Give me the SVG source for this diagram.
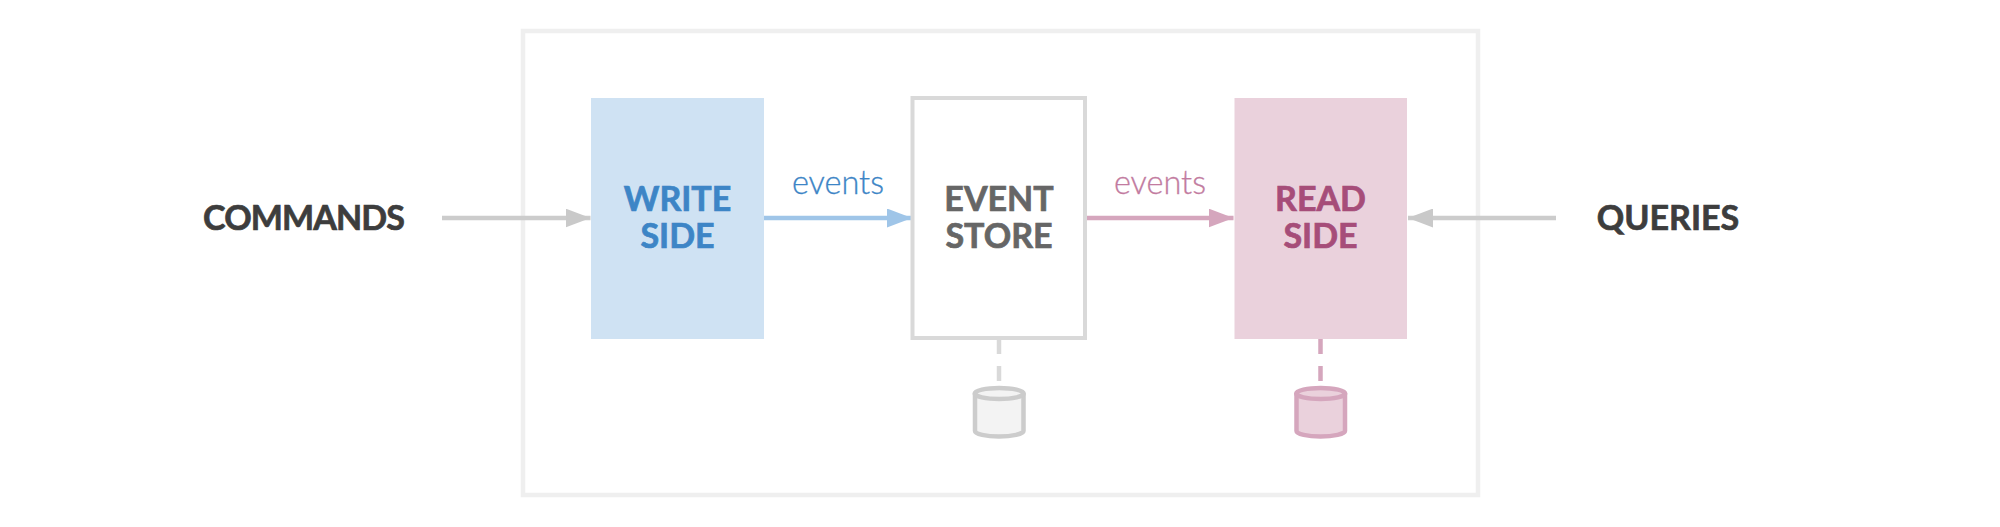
<svg xmlns="http://www.w3.org/2000/svg" width="2000" height="527" viewBox="0 0 2000 527">
<style>
text{font-family:"Lato","Liberation Sans",sans-serif;text-anchor:middle}
.b{font-weight:700;font-size:34px;stroke-width:.7px;paint-order:stroke}
.ev{font-weight:300;font-size:32.500px;stroke-width:.3px}
.d{fill:#3d3d3d;stroke:#3d3d3d}
.wr{fill:#3d85c6;stroke:#3d85c6}
.es{fill:#666666;stroke:#666666}
.rd{fill:#a64d79;stroke:#a64d79}
.line{fill:none;stroke-width:4.500}
.dash{fill:none;stroke-width:4.500;stroke-dasharray:15 12}
.cyl{stroke-width:4.500}
</style>
<defs>
<marker id="mg" markerUnits="userSpaceOnUse" markerWidth="25" markerHeight="19" refX="25" refY="9.500" orient="auto"><path d="M0 0L25 9.500L0 19Z" fill="#c9c9c9"/></marker>
<marker id="mb" markerUnits="userSpaceOnUse" markerWidth="25" markerHeight="19" refX="25" refY="9.500" orient="auto"><path d="M0 0L25 9.500L0 19Z" fill="#9fc5e8"/></marker>
<marker id="mp" markerUnits="userSpaceOnUse" markerWidth="25" markerHeight="19" refX="25" refY="9.500" orient="auto"><path d="M0 0L25 9.500L0 19Z" fill="#d5a6bd"/></marker>
</defs>
<rect width="2000" height="527" fill="#fff"/>
<g id="frame"><rect x="523" y="31" width="955" height="464" fill="none" stroke="#efefef" stroke-width="4.500"/></g>
<g id="connectors">
<path class="line" stroke="#cccccc" d="M442 218H590.500" marker-end="url(#mg)"/>
<path class="line" stroke="#9fc5e8" d="M764 218H912" marker-end="url(#mb)"/>
<path class="line" stroke="#d5a6bd" d="M1085 218H1233.500" marker-end="url(#mp)"/>
<path class="line" stroke="#cccccc" d="M1556 218H1408" marker-end="url(#mg)"/>
<path class="dash" stroke="#d9d9d9" d="M999 339V382"/>
<path class="dash" stroke="#d5a6bd" d="M1320.500 339V382"/>
</g>
<g id="commands"><text class="b d" x="303.500" y="229.500" letter-spacing="-.9">COMMANDS</text></g>
<g id="queries"><text class="b d" x="1668" y="229.500">QUERIES</text></g>
<g id="write-side"><rect x="591" y="98" width="173" height="241" fill="#cfe2f3"/>
<text class="b wr" x="677.500" y="211">WRITE</text><text class="b wr" x="677.500" y="248">SIDE</text></g>
<g id="event-store"><rect x="912.500" y="98" width="172.500" height="240" fill="#fff" stroke="#d9d9d9" stroke-width="4"/>
<text class="b es" x="999" y="211">EVENT</text><text class="b es" x="999" y="248">STORE</text></g>
<g id="read-side"><rect x="1234.500" y="98" width="172.500" height="241" fill="#ead1dc"/>
<text class="b rd" x="1320.500" y="211">READ</text><text class="b rd" x="1320.500" y="248">SIDE</text></g>
<g id="label-events-write"><text class="ev wr" x="838" y="194">events</text></g>
<g id="label-events-read"><text class="ev" fill="#c27ba0" stroke="#c27ba0" x="1160" y="194">events</text></g>
<g id="db-store"><path class="cyl" fill="#f3f3f3" stroke="#cccccc" d="M975 393.500V431C975 434 986 436.500 999 436.500S1023.500 434 1023.500 431V393.500"/><ellipse class="cyl" cx="999.200" cy="393.500" rx="24.500" ry="5.500" fill="#f3f3f3" stroke="#cccccc"/></g>
<g id="db-read"><path class="cyl" fill="#ead1dc" stroke="#d5a6bd" d="M1296.500 393.500V431C1296.500 434 1307.500 436.500 1320.500 436.500S1345 434 1345 431V393.500"/><ellipse class="cyl" cx="1320.700" cy="393.500" rx="24.500" ry="5.500" fill="#ead1dc" stroke="#d5a6bd"/></g>
</svg>
